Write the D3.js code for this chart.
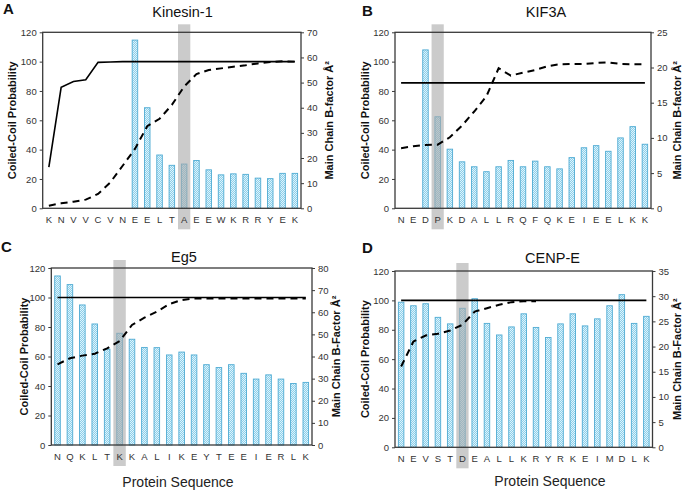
<!DOCTYPE html>
<html><head><meta charset="utf-8">
<script src="https://cdn.jsdelivr.net/npm/d3@7"></script>
<style>body{margin:0;background:#fff}svg{display:block}text{font-family:"Liberation Sans",Arial,sans-serif}</style>
</head><body><svg id="c" width="683" height="490"></svg>
<script>
// ---------- DATA ----------
const kinesinSeq = ["K","N","V","V","C","V","N","E","E","L","T","A","E","E","W","K","R","R","Y","E","K"];
const kinesinBfactor = [null,null,null,null,null,null,null,66.9,40.0,21.2,17.1,17.6,19.0,15.3,13.3,13.7,13.5,12.0,11.8,13.9,13.9];
const kinesinCoil = [28,82.5,86.5,87.7,99.5,99.7,100,100,100,100,100,100,100,100,100,100,100,100,100,100,100];
const kinesinCoil2 = [1.8,3.4,4.5,5.9,9.8,17.7,29,40.5,56,61,70.5,83,91.5,94.3,95.4,96.5,97.5,98.8,99.7,100.2,100];

const kif3aSeq = ["N","E","D","P","K","D","A","L","L","R","Q","F","Q","K","E","I","E","E","L","K","K"];
const kif3aBfactor = [null,null,22.5,13.0,8.4,6.6,5.9,5.2,5.9,6.8,5.9,6.7,5.9,5.6,7.2,8.6,8.9,8.1,10.0,11.6,9.1];
const kif3aCoil = [85.5,85.5,85.5,85.5,85.5,85.5,85.5,85.5,85.5,85.5,85.5,85.5,85.5,85.5,85.5,85.5,85.5,85.5,85.5,85.5,85.5];
const kif3aCoil2 = [41,42.3,43.2,43.4,48.4,56.4,66,76.4,95.5,90.5,92.5,94.3,96.8,98.2,98.4,98.4,99.1,99.5,98.4,98.2,98.2];

const eg5Seq = ["N","Q","K","L","T","K","K","A","L","I","K","E","Y","T","E","E","I","E","R","L","K"];
const eg5Bfactor = [76.4,72.5,63.3,54.7,43.3,50.5,47.8,44.1,44,40.7,42,40.7,36.3,35,36.3,32.4,29.8,31.7,29.8,27.8,28.3];
const eg5Coil = [100,100,100,100,100,100,100,100,100,100,100,100,100,100,100,100,100,100,100,100,100];
const eg5Coil2 = [54.7,58.8,60.6,61.9,65.5,70.5,81.4,86.3,90.4,95.5,98.3,99.3,99.3,99.3,99.3,99.3,99.3,99.3,99.3,99.3,99.3];

const cenpeSeq = ["N","E","V","S","T","D","E","A","L","L","K","R","Y","R","K","E","I","M","D","L","K"];
const cenpeBfactor = [28.8,28.1,28.5,25.8,24.5,27.6,29.5,24.6,22.3,23.9,26.5,23.8,21.8,24.5,26.5,24.1,25.5,28.1,30.3,24.6,26.0];
const cenpeCoil = [100,100,100,100,100,100,100,100,100,100,100,100,100,100,100,100,100,100,100,100,100];
const cenpeCoil2 = [55,72,76.1,77.3,79.5,83.4,92.4,94.7,97,98.8,99.4,99.4,null,null,null,null,null,null,null,null,null];

const leftTicks = [0,20,40,60,80,100,120];

// ---------- PANELS ----------
const panels = [
  {letter:"A", title:"Kinesin-1", seq:kinesinSeq, bf:kinesinBfactor, coil:kinesinCoil, coil2:kinesinCoil2, hi:11,
   rMax:70, rStep:10, rLabel:"Main Chain B-factor Å²",
   x0:42.7, x1:301, y0:32.3, y1:208.3, tx:182.5, ty:17, lx:3, ly:13.5, llx:12, rlx:329, xTitle:null},
  {letter:"B", title:"KIF3A", seq:kif3aSeq, bf:kif3aBfactor, coil:kif3aCoil, coil2:kif3aCoil2, hi:3,
   rMax:25, rStep:5, rLabel:"Main Chain B-factor Å²",
   x0:395, x1:651, y0:32.3, y1:208.3, tx:546, ty:17, lx:362, ly:15.5, llx:365, rlx:677, xTitle:null},
  {letter:"C", title:"Eg5", seq:eg5Seq, bf:eg5Bfactor, coil:eg5Coil, coil2:eg5Coil2, hi:5,
   rMax:80, rStep:10, rLabel:"Main Chain B-Factor Å²",
   x0:51.3, x1:312, y0:268, y1:445, tx:184, ty:261.5, lx:1, ly:252, llx:24, rlx:336, xTitle:{x:178, y:487}},
  {letter:"D", title:"CENP-E", seq:cenpeSeq, bf:cenpeBfactor, coil:cenpeCoil, coil2:cenpeCoil2, hi:5,
   rMax:35, rStep:5, rLabel:"Main Chain B-Factor Å²",
   x0:395, x1:652.5, y0:271, y1:447.3, tx:552.5, ty:263, lx:362, ly:253, llx:365, rlx:677, xTitle:{x:550, y:486}}
];

const svg = d3.select("#c");
const defs = svg.append("defs");
const pat = defs.append("pattern").attr("id","dots").attr("patternUnits","userSpaceOnUse")
  .attr("width",2).attr("height",2);
pat.append("rect").attr("width",2).attr("height",2).attr("fill","#8ccfea");
pat.append("rect").attr("width",1).attr("height",1).attr("fill","#dff3fb");
pat.append("rect").attr("x",1).attr("y",1).attr("width",1).attr("height",1).attr("fill","#dff3fb");

panels.forEach(p => {
  const g = svg.append("g");
  const x = d3.scaleBand().domain(d3.range(p.seq.length)).range([p.x0, p.x1]).padding(0);
  const yL = d3.scaleLinear().domain([0,120]).range([p.y1, p.y0]);
  const yR = d3.scaleLinear().domain([0,p.rMax]).range([p.y1, p.y0]);
  const bw = x.bandwidth()*0.45;
  const cx = i => x(i) + x.bandwidth()/2;

  // bars (B-factor, right axis)
  g.selectAll("rect.bar").data(p.bf.map((v,i)=>({v,i})).filter(d=>d.v!=null)).join("rect")
    .attr("class","bar")
    .attr("x", d => cx(d.i) - bw/2).attr("width", bw)
    .attr("y", d => yR(d.v)).attr("height", d => yR(0) - yR(d.v))
    .attr("fill","url(#dots)").attr("stroke","#4fabd3").attr("stroke-width",0.9);

  // highlight band
  g.append("rect").attr("x", x(p.hi)).attr("width", x.bandwidth())
    .attr("y", p.y0 - 8).attr("height", p.y1 - p.y0 + 29)
    .attr("fill","#a8a8a8").attr("opacity",0.6);

  // frame
  g.append("rect").attr("x",p.x0).attr("y",p.y0).attr("width",p.x1-p.x0).attr("height",p.y1-p.y0)
    .attr("fill","none").attr("stroke","#3a3a3a").attr("stroke-width",1.3);

  // lines (left axis)
  const line = d3.line().defined(d => d.v != null).x(d => cx(d.i)).y(d => yL(d.v));
  g.append("path").datum(p.coil2.map((v,i)=>({v,i})))
    .attr("d", line).attr("fill","none").attr("stroke","#000").attr("stroke-width",2)
    .attr("stroke-dasharray","7,5");
  g.append("path").datum(p.coil.map((v,i)=>({v,i})))
    .attr("d", line).attr("fill","none").attr("stroke","#000").attr("stroke-width",1.6);

  // axes
  const aL = d3.axisLeft(yL).tickValues(leftTicks).tickSize(3).tickPadding(3);
  const gl = g.append("g").attr("transform",`translate(${p.x0},0)`).call(aL);
  const aR = d3.axisRight(yR).tickValues(d3.range(0,p.rMax+0.001,p.rStep)).tickSize(3).tickPadding(3);
  const gr = g.append("g").attr("transform",`translate(${p.x1},0)`).call(aR);
  [gl,gr].forEach(a => {
    a.select(".domain").remove();
    a.selectAll("line").attr("stroke","#3a3a3a");
    a.selectAll("text").attr("font-size",9.5).attr("fill","#333");
  });
  const aX = d3.axisBottom(x).tickFormat(i => p.seq[i]).tickSize(0).tickPadding(8);
  const gx = g.append("g").attr("transform",`translate(0,${p.y1})`).call(aX);
  gx.select(".domain").remove();
  gx.selectAll("text").attr("font-size",9.5).attr("fill","#333");

  // texts
  g.append("text").attr("x",p.tx).attr("y",p.ty).attr("text-anchor","middle")
    .attr("font-size",14.5).attr("fill","#111").text(p.title);
  g.append("text").attr("x",p.lx).attr("y",p.ly).attr("font-size",15).attr("font-weight","bold")
    .attr("fill","#111").text(p.letter);
  const my = (p.y0+p.y1)/2;
  g.append("text").attr("transform",`translate(${p.llx},${my}) rotate(-90)`)
    .attr("text-anchor","middle").attr("dominant-baseline","central")
    .attr("font-size",11).attr("font-weight","bold").attr("fill","#111").text("Coiled-Coil Probability");
  g.append("text").attr("transform",`translate(${p.rlx},${my}) rotate(-90)`)
    .attr("text-anchor","middle").attr("dominant-baseline","central")
    .attr("font-size",11).attr("font-weight","bold").attr("fill","#111").text(p.rLabel);
  if (p.xTitle) {
    g.append("text").attr("x",p.xTitle.x).attr("y",p.xTitle.y).attr("text-anchor","middle")
      .attr("font-size",14).attr("fill","#222").text("Protein Sequence");
  }
});
</script></body></html>
